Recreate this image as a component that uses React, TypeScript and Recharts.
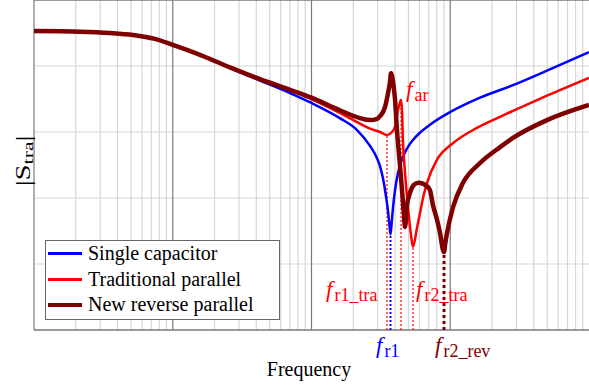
import React from "react";
import {
  LineChart,
  Line,
  XAxis,
  YAxis,
  ReferenceLine,
  Legend,
} from "recharts";

// frequency (arbitrary units, log axis) vs |S_tra| (arbitrary units)
const singleCap = [
  { f: 1, v: 4.53 }, { f: 2.15, v: 4.52 }, { f: 3.53, v: 4.5 }, { f: 5.17, v: 4.47 },
  { f: 7.45, v: 4.41 }, { f: 10, v: 4.32 }, { f: 15.7, v: 4.17 }, { f: 27.2, v: 3.95 },
  { f: 42.5, v: 3.78 }, { f: 70, v: 3.59 }, { f: 100, v: 3.44 }, { f: 160, v: 3.21 },
  { f: 213, v: 3.03 }, { f: 264, v: 2.79 }, { f: 297, v: 2.6 }, { f: 312, v: 2.48 },
  { f: 328, v: 2.29 }, { f: 344, v: 2.03 }, { f: 356, v: 1.8 }, { f: 365, v: 1.58 },
  { f: 371, v: 1.45 }, { f: 378, v: 1.62 }, { f: 387, v: 1.86 }, { f: 400, v: 2.12 },
  { f: 420, v: 2.38 }, { f: 456, v: 2.62 }, { f: 488, v: 2.75 }, { f: 539, v: 2.88 },
  { f: 605, v: 2.99 }, { f: 714, v: 3.11 }, { f: 996, v: 3.3 }, { f: 1639, v: 3.52 },
  { f: 2832, v: 3.71 }, { f: 4978, v: 3.93 }, { f: 10000, v: 4.21 },
];

const traditional = [
  { f: 1, v: 4.53 }, { f: 2.15, v: 4.52 }, { f: 3.53, v: 4.5 }, { f: 5.17, v: 4.47 },
  { f: 7.45, v: 4.41 }, { f: 10, v: 4.32 }, { f: 15.7, v: 4.17 }, { f: 27.2, v: 3.96 },
  { f: 42.5, v: 3.79 }, { f: 70, v: 3.64 }, { f: 100, v: 3.5 }, { f: 160, v: 3.29 },
  { f: 213, v: 3.15 }, { f: 264, v: 3.05 }, { f: 312, v: 3.0 }, { f: 350, v: 2.955 },
  { f: 380, v: 3.0 }, { f: 400, v: 3.08 }, { f: 420, v: 3.33 }, { f: 434, v: 3.45 },
  { f: 442, v: 3.49 }, { f: 449, v: 3.33 }, { f: 456, v: 2.88 }, { f: 472, v: 2.38 },
  { f: 496, v: 1.86 }, { f: 521, v: 1.44 }, { f: 539, v: 1.26 }, { f: 576, v: 1.55 },
  { f: 605, v: 1.77 }, { f: 636, v: 2.0 }, { f: 680, v: 2.23 }, { f: 803, v: 2.58 },
  { f: 1047, v: 2.83 }, { f: 1459, v: 3.03 }, { f: 2284, v: 3.23 }, { f: 2832, v: 3.32 },
  { f: 4978, v: 3.55 }, { f: 10000, v: 3.82 },
];

const reverse = [
  { f: 1, v: 4.53 }, { f: 2.15, v: 4.52 }, { f: 3.53, v: 4.5 }, { f: 5.17, v: 4.47 },
  { f: 7.45, v: 4.41 }, { f: 10, v: 4.32 }, { f: 15.7, v: 4.17 }, { f: 27.2, v: 3.96 },
  { f: 42.5, v: 3.8 }, { f: 70, v: 3.64 }, { f: 100, v: 3.52 }, { f: 160, v: 3.33 },
  { f: 224, v: 3.21 }, { f: 264, v: 3.18 }, { f: 297, v: 3.2 }, { f: 312, v: 3.24 },
  { f: 339, v: 3.38 }, { f: 356, v: 3.59 }, { f: 368, v: 3.76 }, { f: 374, v: 3.89 },
  { f: 387, v: 3.76 }, { f: 400, v: 3.49 }, { f: 413, v: 3.03 }, { f: 434, v: 2.5 },
  { f: 449, v: 2.12 }, { f: 464, v: 1.74 }, { f: 472, v: 1.56 }, { f: 488, v: 1.89 },
  { f: 513, v: 2.08 }, { f: 548, v: 2.2 }, { f: 590, v: 2.23 }, { f: 658, v: 2.2 },
  { f: 714, v: 2.12 }, { f: 751, v: 1.89 }, { f: 803, v: 1.67 }, { f: 844, v: 1.47 },
  { f: 887, v: 1.21 }, { f: 902, v: 1.18 }, { f: 917, v: 1.29 }, { f: 948, v: 1.47 },
  { f: 1047, v: 1.86 }, { f: 1236, v: 2.23 }, { f: 1639, v: 2.53 }, { f: 2284, v: 2.77 },
  { f: 2832, v: 2.91 }, { f: 4978, v: 3.18 }, { f: 10000, v: 3.41 },
];

// characteristic frequencies marked with dotted drop lines
const markers = [
  { f: 350, v: 2.955, color: "#ff0000", width: 1.2, dash: "2 2" }, // fr1_tra
  { f: 371, v: 1.45, color: "#0000ff", width: 2, dash: "2 2" }, // fr1
  { f: 442, v: 3.49, color: "#ff0000", width: 1.2, dash: "2 2" }, // far
  { f: 539, v: 1.26, color: "#ff0000", width: 1.2, dash: "2 2" }, // fr2_tra
  { f: 902, v: 1.18, color: "#7f0000", width: 3, dash: "3 3" }, // fr2_rev
];

const decades = [1, 10, 100, 1000];
const minorTicks = [2, 3, 4, 5, 6, 7, 8, 9].flatMap((m) =>
  [1, 10, 100, 1000].map((d) => m * d)
);
const yGrid = [1, 2, 3, 4];

const series = [
  { name: "Single capacitor", data: singleCap, color: "#0000ff", width: 2.5 },
  { name: "Traditional parallel", data: traditional, color: "#ff0000", width: 2.5 },
  { name: "New reverse parallel", data: reverse, color: "#7f0000", width: 4.5 },
];

const serif = "'Liberation Serif', 'Times New Roman', serif";

const LegendBox = () => (
  <div
    style={{
      border: "1px solid #666",
      background: "#fff",
      width: 233,
      padding: "0 0 1px 0",
      fontFamily: serif,
      fontSize: 20,
      lineHeight: "25px",
      color: "#000",
    }}
  >
    {series.map((s) => (
      <div key={s.name} style={{ display: "flex", alignItems: "center", height: 25.5 }}>
        <span
          style={{
            display: "inline-block",
            width: 34,
            height: s.width > 3 ? 4 : 3,
            background: s.color,
            marginLeft: 2,
            marginRight: 6,
          }}
        />
        <span style={{ fontFamily: serif }}>{s.name}</span>
      </div>
    ))}
  </div>
);

const FLabel = ({ x, y, sub, color }: { x: number; y: number; sub: string; color: string }) => (
  <text x={x} y={y} fill={color} fontFamily={serif}>
    <tspan fontStyle="italic" fontSize={23}>f</tspan>
    <tspan fontSize={18} dx={2} dy={4}>{sub}</tspan>
  </text>
);

const App = () => {
  return (
    <div style={{ position: "absolute", left: 0, top: 0, width: 589, height: 388, background: "#fff" }}>
      <LineChart
        width={589}
        height={388}
        margin={{ top: 0, right: 0, left: 34, bottom: 58 }}
      >
        <XAxis
          dataKey="f"
          type="number"
          scale="log"
          domain={[1, 10000]}
          allowDataOverflow
          tick={false}
          tickLine={false}
          axisLine={false}
          height={0}
        />
        <YAxis
          type="number"
          domain={[0, 5]}
          tick={false}
          tickLine={false}
          axisLine={false}
          width={0}
        />
        {minorTicks.map((t) => (
          <ReferenceLine key={"m" + t} x={t} stroke="#d6d6d6" strokeWidth={1.2} />
        ))}
        {yGrid.map((t) => (
          <ReferenceLine key={"h" + t} y={t} stroke="#d6d6d6" strokeWidth={1.2} />
        ))}
        {decades.map((d) => (
          <ReferenceLine key={d} x={d} stroke="#7a7a7a" strokeWidth={1.2} />
        ))}
        <ReferenceLine y={0} stroke="#7a7a7a" strokeWidth={1.5} />
        <ReferenceLine y={5} stroke="#7a7a7a" strokeWidth={1.5} />
        {markers.map((m) => (
          <ReferenceLine
            key={m.f}
            segment={[{ x: m.f, y: 0 }, { x: m.f, y: m.v }]}
            stroke={m.color}
            strokeWidth={m.width}
            strokeDasharray={m.dash}
          />
        ))}
        {series.map((s) => (
          <Line
            key={s.name}
            data={s.data}
            dataKey="v"
            name={s.name}
            type="monotone"
            stroke={s.color}
            strokeWidth={s.width}
            dot={false}
            activeDot={false}
            isAnimationActive={false}
          />
        ))}
        <Legend
          layout="vertical"
          align="center"
          verticalAlign="middle"
          content={() => <LegendBox />}
          wrapperStyle={{ position: "absolute", left: 45, top: 240, width: "auto" }}
        />
      </LineChart>
      <svg
        width={589}
        height={388}
        style={{ position: "absolute", left: 0, top: 0, pointerEvents: "none" }}
      >
        <text
          transform="translate(30,161) rotate(-90) scale(1.45,1)"
          textAnchor="middle"
          fontFamily={serif}
          fontSize={20}
          fill="#000"
        >
          |S<tspan fontSize={15} dy={3}>tra</tspan><tspan dy={-3}>|</tspan>
        </text>
        <text x={309} y={376} textAnchor="middle" fontFamily={serif} fontSize={20} fill="#000">
          Frequency
        </text>
        <FLabel x={406} y={97} sub="ar" color="#ff0000" />
        <FLabel x={326} y={297} sub="r1_tra" color="#ff0000" />
        <FLabel x={416} y={297} sub="r2_tra" color="#ff0000" />
        <FLabel x={376} y={353} sub="r1" color="#0000ff" />
        <FLabel x={435} y={353} sub="r2_rev" color="#7f0000" />
      </svg>
    </div>
  );
};

export default App;
